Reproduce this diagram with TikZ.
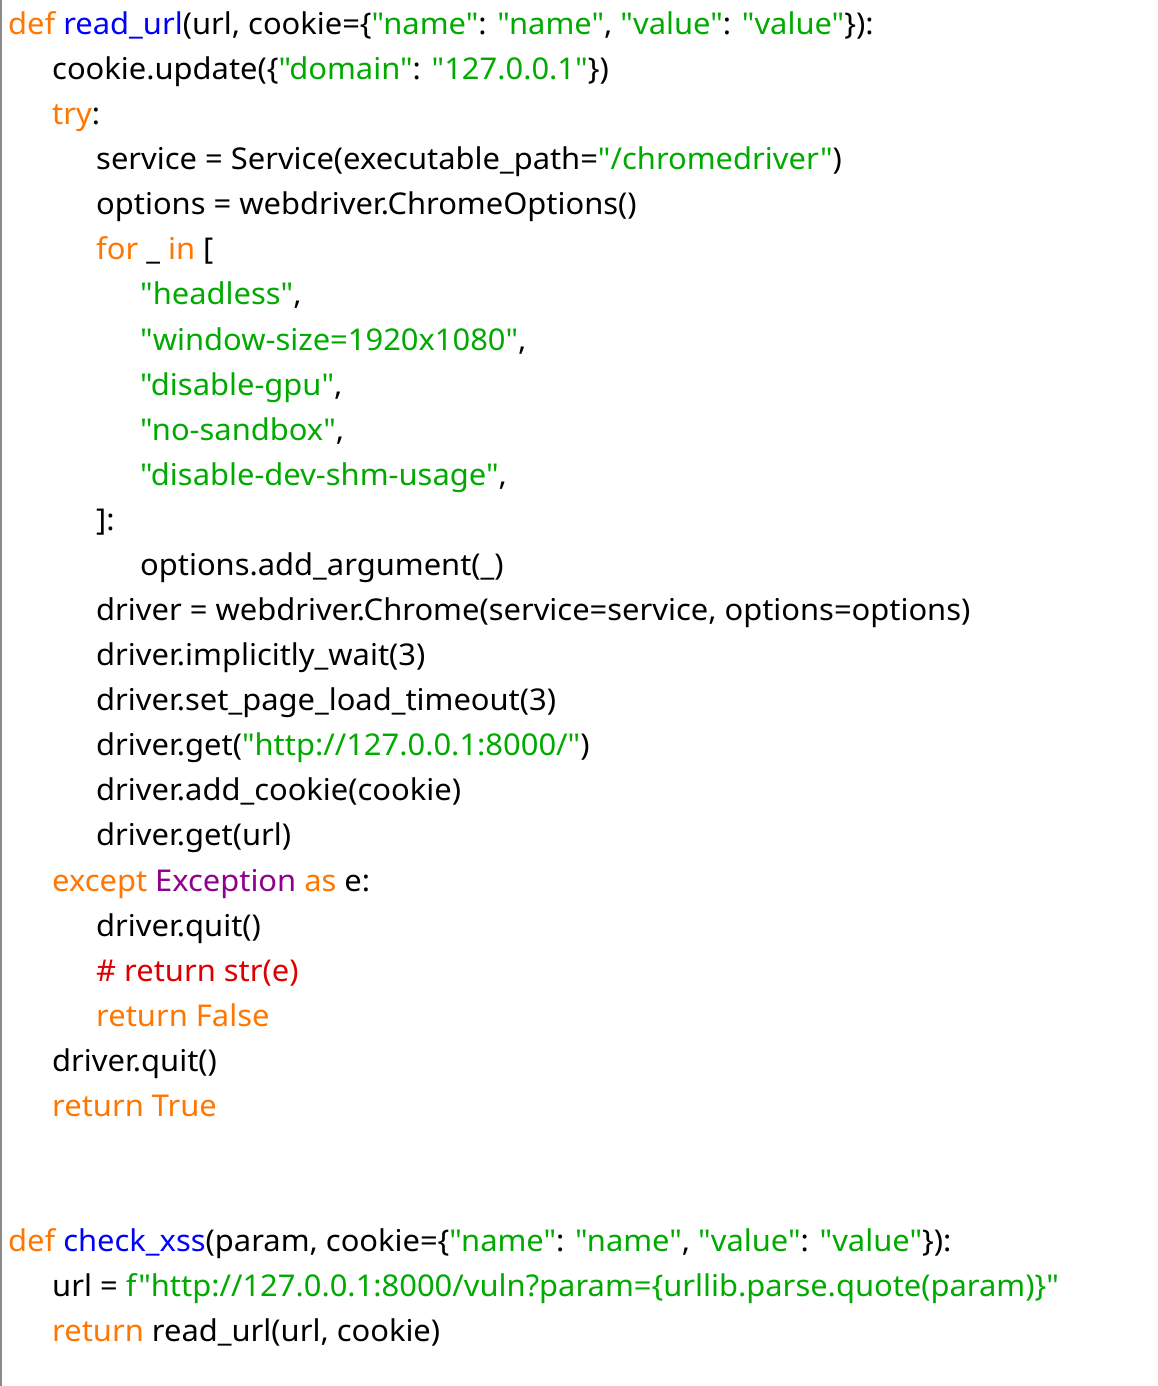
\documentclass[tikz,border=0pt]{standalone}
\usepackage{fontspec}
\setmainfont{Noto Sans}[Ligatures=TeXOff, FakeStretch=1.03]
\usepackage{xcolor}
\usetikzlibrary{positioning}
\definecolor{PyOrange}{HTML}{FF7700}
\definecolor{PyBlue}{HTML}{0000FF}
\definecolor{PyGreen}{HTML}{00AA00}
\definecolor{PyPurple}{HTML}{900090}
\definecolor{PyRed}{HTML}{DD0000}
\definecolor{EdgeGray}{HTML}{8A8A8A}
\newcommand{\pykw}[1]{\textcolor{PyOrange}{#1}}
\newcommand{\pydef}[1]{\textcolor{PyBlue}{#1}}
\newcommand{\pystr}[1]{\textcolor{PyGreen}{#1}}
\newcommand{\pybi}[1]{\textcolor{PyPurple}{#1}}
\newcommand{\pycmt}[1]{\textcolor{PyRed}{#1}}
\begin{document}
\begin{tikzpicture}[
    x=44pt, y=-45.08pt,
    codeline/.style={anchor=base west, inner sep=0pt, text=black,
                     font=\fontsize{30}{45}\selectfont}
]
    \useasboundingbox[fill=white] (0pt,0pt) rectangle (1158pt,-1386pt);
    % left edge of the editor
    \fill[EdgeGray] (0pt,0pt) rectangle (2pt,-1386pt);

    \begin{scope}[shift={(8pt,-34.5pt)}]
    % read_url
    \node[codeline] (l1) at (0,0) {\pykw{def} \pydef{read\_url}(url, cookie=\{\pystr{"name"}: \pystr{"name"}, \pystr{"value"}: \pystr{"value"}\}):};
    \node[codeline] (l2) at (1,1) {cookie.update(\{\pystr{"domain"}: \pystr{"127.0.0.1"}\})};
    \node[codeline] (l3) at (1,2) {\pykw{try}:};
    \node[codeline] (l4) at (2,3) {service = Service(executable\_path=\pystr{"/chromedriver"})};
    \node[codeline] (l5) at (2,4) {options = webdriver.ChromeOptions()};
    \node[codeline] (l6) at (2,5) {\pykw{for} \_ \pykw{in} [};
    \node[codeline] (l7) at (3,6) {\pystr{"headless"},};
    \node[codeline] (l8) at (3,7) {\pystr{"window-size=1920x1080"},};
    \node[codeline] (l9) at (3,8) {\pystr{"disable-gpu"},};
    \node[codeline] (l10) at (3,9) {\pystr{"no-sandbox"},};
    \node[codeline] (l11) at (3,10) {\pystr{"disable-dev-shm-usage"},};
    \node[codeline] (l12) at (2,11) {]:};
    \node[codeline] (l13) at (3,12) {options.add\_argument(\_)};
    \node[codeline] (l14) at (2,13) {driver = webdriver.Chrome(service=service, options=options)};
    \node[codeline] (l15) at (2,14) {driver.implicitly\_wait(3)};
    \node[codeline] (l16) at (2,15) {driver.set\_page\_load\_timeout(3)};
    \node[codeline] (l17) at (2,16) {driver.get(\pystr{"http://127.0.0.1:8000/"})};
    \node[codeline] (l18) at (2,17) {driver.add\_cookie(cookie)};
    \node[codeline] (l19) at (2,18) {driver.get(url)};
    \node[codeline] (l20) at (1,19) {\pykw{except} \pybi{Exception} \pykw{as} e:};
    \node[codeline] (l21) at (2,20) {driver.quit()};
    \node[codeline] (l22) at (2,21) {\pycmt{\# return str(e)}};
    \node[codeline] (l23) at (2,22) {\pykw{return False}};
    \node[codeline] (l24) at (1,23) {driver.quit()};
    \node[codeline] (l25) at (1,24) {\pykw{return True}};

    % check_xss
    \node[codeline] (l28) at (0,27) {\pykw{def} \pydef{check\_xss}(param, cookie=\{\pystr{"name"}: \pystr{"name"}, \pystr{"value"}: \pystr{"value"}\}):};
    \node[codeline] (l29) at (1,28) {url = \pystr{f"http://127.0.0.1:8000/vuln?param=\{urllib.parse.quote(param)\}"}};
    \node[codeline] (l30) at (1,29) {\pykw{return} read\_url(url, cookie)};
    \end{scope}
\end{tikzpicture}
\end{document}
